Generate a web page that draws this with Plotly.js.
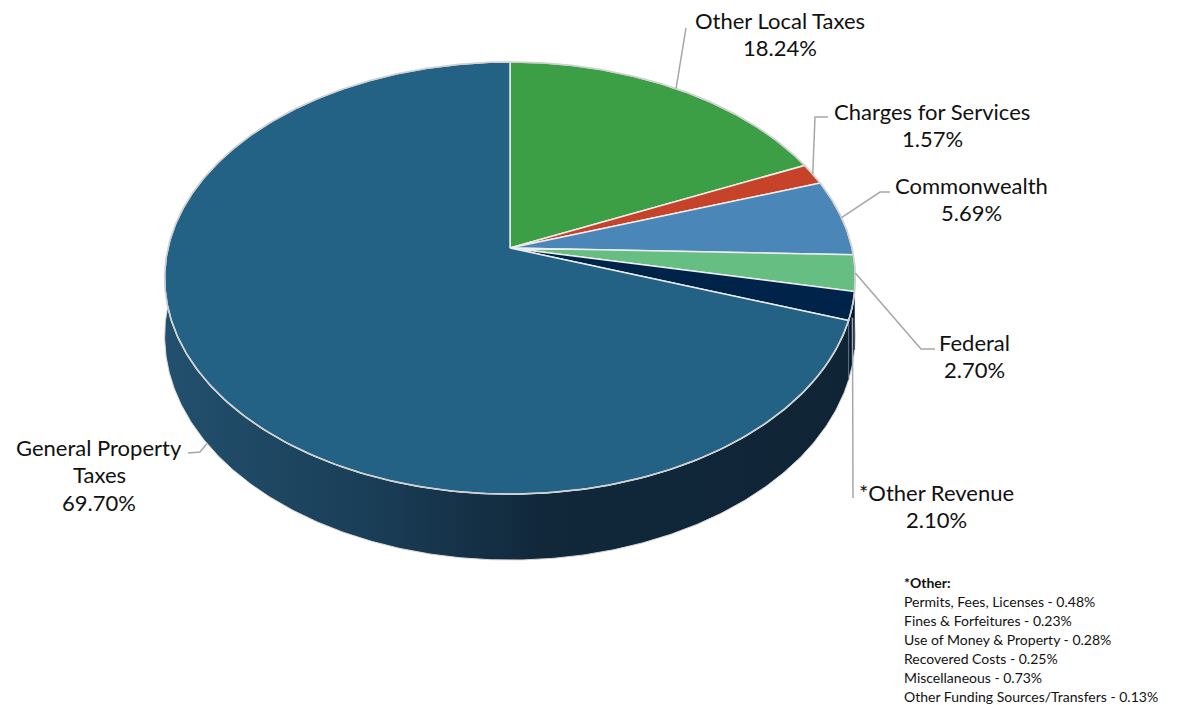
<!DOCTYPE html>
<html>
<head>
<meta charset="utf-8">
<script src="https://cdn.plot.ly/plotly-3.0.1.min.js"></script>
<style>html,body{margin:0;padding:0;background:#fff;}#chart{width:1181px;height:705px;}</style>
</head>
<body>
<div id="chart"></div>
<script>
// ---- data ----
const categories = ['Other Local Taxes','Charges for Services','Commonwealth','Federal','*Other Revenue','General Property Taxes'];
const values = [18.24, 1.57, 5.69, 2.70, 2.10, 69.70];
const labelLines = [['Other Local Taxes'],['Charges for Services'],['Commonwealth'],['Federal'],['*Other Revenue'],['General Property','Taxes']];
const topColors = ['#3c9f45','#c6432a','#4a86b7','#67be82','#00234a','#236285'];
const sideColors = ['#2a6f30','#8a2e1d','#33607f','#48855b','#001832','#173a52'];
const otherItems = ['Permits, Fees, Licenses','Fines & Forfeitures','Use of Money & Property','Recovered Costs','Miscellaneous','Other Funding Sources/Transfers'];
const otherValues = [0.48, 0.23, 0.28, 0.25, 0.73, 0.13];

// ---- projection of a perspective disc ----
const CX = 510, CY = 248, RX = 342, RY = 211.9, P = 0.139, H = 56.8;
function proj(deg, r, drop) {
  const t = deg * Math.PI / 180;
  const x = r * Math.sin(t), z = -r * Math.cos(t);
  const k = 1 / (1 - P * z);
  return [CX + RX * x * k, CY + RY * z * k + drop * H * k];
}
const total = values.reduce((a, b) => a + b, 0);
let cum = 0;
const slices = values.map((v, i) => {
  const a0 = cum / total * 360; cum += v; const a1 = cum / total * 360;
  return {a0, a1, mid: (a0 + a1) / 2};
});

const traces = [];
// side walls (front half)
slices.forEach((s, i) => {
  const lo = Math.max(s.a0, 90), hi = Math.min(s.a1, 270);
  if (hi <= lo) return;
  const xs = [], ys = [];
  for (let a = lo; a < hi; a += 0.5) { const p = proj(a, 1, 0); xs.push(p[0]); ys.push(p[1]); }
  { const p = proj(hi, 1, 0); xs.push(p[0]); ys.push(p[1]); }
  for (let a = hi; a > lo; a -= 0.5) { const p = proj(a, 1, 1); xs.push(p[0]); ys.push(p[1]); }
  { const p = proj(lo, 1, 1); xs.push(p[0]); ys.push(p[1]); }
  const tr = {x: xs, y: ys, type: 'scatter', mode: 'lines', fill: 'toself', hoverinfo: 'skip',
    line: {color: '#d9d9d9', width: 1}, fillcolor: sideColors[i], showlegend: false};
  if (i === 5) {
    tr.fillgradient = {type: 'horizontal', colorscale: [[0, '#22506e'], [0.3, '#1a3e57'], [0.55, '#11283b'], [1, '#0f2536']]};
  }
  traces.push(tr);
});
// top faces
slices.forEach((s, i) => {
  const xs = [CX], ys = [CY];
  for (let a = s.a0; a < s.a1; a += 0.5) { const p = proj(a, 1, 0); xs.push(p[0]); ys.push(p[1]); }
  const pe = proj(s.a1, 1, 0); xs.push(pe[0]); ys.push(pe[1]);
  xs.push(CX); ys.push(CY);
  traces.push({x: xs, y: ys, type: 'scatter', mode: 'lines', fill: 'toself', fillcolor: topColors[i],
    line: {color: '#ececec', width: 1.5}, hoverinfo: 'text', text: categories[i] + ' ' + values[i].toFixed(2) + '%', showlegend: false});
});
// rim outline of top face
{
  const xs = [], ys = [];
  for (let a = 0; a <= 360; a += 0.5) { const p = proj(a, 1, 0); xs.push(p[0]); ys.push(p[1]); }
  traces.push({x: xs, y: ys, type: 'scatter', mode: 'lines', line: {color: '#d0d0d0', width: 1.5}, hoverinfo: 'skip', showlegend: false});
}

// leader lines: rim point -> elbow -> label end (layout positions)
const leaderRoute = [
  {drop: 0, pts: [[686, 28]]},
  {drop: 0, pts: [[815, 117], [828, 117]]},
  {drop: 0, pts: [[880, 192], [890, 192]]},
  {drop: 0, pts: [[921, 349], [935, 349]]},
  {drop: 0.2, pts: [[853, 498]]},
  {drop: 1, pts: [[200, 452], [188, 453]]}
];
leaderRoute.forEach((L, i) => {
  const p0 = proj(slices[i].mid, 1, L.drop);
  const xs = [p0[0]].concat(L.pts.map(p => p[0]));
  const ys = [p0[1]].concat(L.pts.map(p => p[1]));
  traces.push({x: xs, y: ys, type: 'scatter', mode: 'lines', line: {color: '#a6a6a6', width: 1.5}, hoverinfo: 'skip', showlegend: false});
});

// labels: one annotation per text line
const labelX = [780, 932, 971, 974, 936, 99];
const labelY0 = [20, 111, 185, 342, 492, 447];
const annotations = [];
categories.forEach((c, i) => {
  const lines = labelLines[i].concat([values[i].toFixed(2) + '%']);
  lines.forEach((t, j) => {
    annotations.push({x: labelX[i], y: labelY0[i] + j * 27.5, xref: 'x', yref: 'y', showarrow: false,
      xanchor: 'center', yanchor: 'middle', text: t,
      font: {family: 'Lato, "Open Sans", sans-serif', size: 22, color: '#111'}});
  });
});
// "Other" breakdown note
annotations.push({x: 902, y: 582, xref: 'x', yref: 'y', showarrow: false, xanchor: 'left', yanchor: 'middle',
  text: '<b>*Other:</b>', font: {family: 'Lato, sans-serif', size: 14, color: '#111'}});
otherItems.forEach((t, i) => {
  annotations.push({x: 902, y: 601 + i * 19, xref: 'x', yref: 'y', showarrow: false, xanchor: 'left', yanchor: 'middle',
    text: t + ' - ' + otherValues[i].toFixed(2) + '%', font: {family: 'Lato, sans-serif', size: 14, color: '#111'}});
});

const layout = {
  width: 1181, height: 705, margin: {l: 0, r: 0, t: 0, b: 0},
  paper_bgcolor: '#ffffff', plot_bgcolor: '#ffffff',
  xaxis: {range: [0, 1181], visible: false, fixedrange: true},
  yaxis: {range: [705, 0], visible: false, fixedrange: true},
  showlegend: false, annotations: annotations, hovermode: 'closest'
};
Plotly.newPlot('chart', traces, layout, {displayModeBar: false});
</script>
</body>
</html>
